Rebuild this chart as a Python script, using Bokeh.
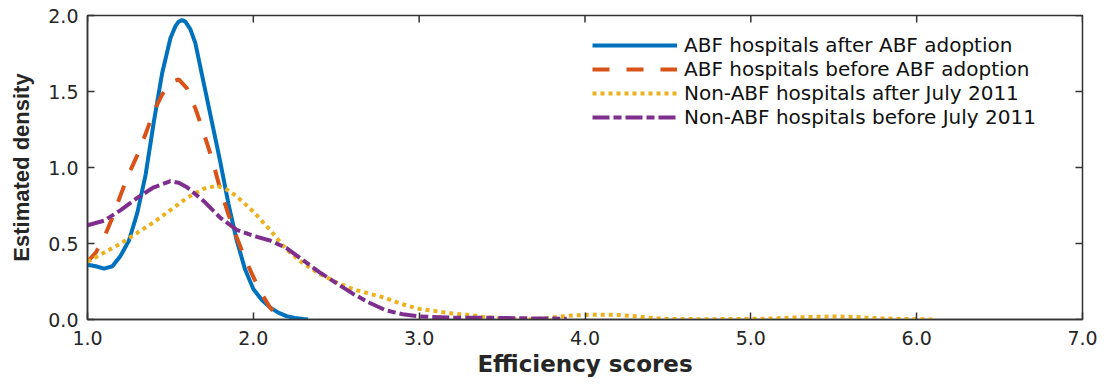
import math
from bokeh.plotting import figure
from bokeh.models import Range1d, FixedTicker, PrintfTickFormatter, Legend, LegendItem
from bokeh.embed import file_html
from bokeh.resources import INLINE

# ---- data ----
abf_after_x = [1.00, 1.05, 1.10, 1.15, 1.20, 1.25, 1.30, 1.35, 1.40, 1.45, 1.50, 1.53, 1.55, 1.57, 1.59,
               1.62, 1.65, 1.70, 1.75, 1.80, 1.85, 1.90, 1.95, 2.00, 2.05, 2.10, 2.15, 2.20, 2.25, 2.30, 2.33]
abf_after_y = [0.36, 0.35, 0.335, 0.35, 0.42, 0.52, 0.70, 0.95, 1.30, 1.62, 1.85, 1.93, 1.96, 1.97, 1.96,
               1.91, 1.82, 1.56, 1.30, 1.04, 0.76, 0.52, 0.33, 0.20, 0.13, 0.08, 0.045, 0.022, 0.01, 0.003, 0.0]

abf_before_x = [1.00, 1.05, 1.10, 1.15, 1.20, 1.25, 1.30, 1.35, 1.40, 1.45, 1.50, 1.55, 1.60, 1.65,
                1.70, 1.75, 1.80, 1.85, 1.90, 1.95, 2.00, 2.05, 2.10, 2.15]
abf_before_y = [0.38, 0.44, 0.54, 0.67, 0.82, 0.96, 1.08, 1.22, 1.37, 1.48, 1.56, 1.58, 1.52, 1.39,
                1.23, 1.06, 0.86, 0.69, 0.54, 0.40, 0.28, 0.17, 0.08, 0.02]

nonabf_after_x = [1.00, 1.10, 1.20, 1.30, 1.40, 1.50, 1.60, 1.70, 1.78, 1.85, 1.90, 2.00, 2.10, 2.20,
                  2.30, 2.40, 2.50, 2.60, 2.70, 2.80, 2.90, 3.00, 3.10, 3.20, 3.30, 3.40, 3.50, 3.60,
                  3.70, 3.80, 3.90, 4.00, 4.10, 4.20, 4.30, 4.40, 4.50, 4.70, 4.90, 5.10, 5.30, 5.50,
                  5.60, 5.70, 5.80, 5.90, 6.00, 6.10]
nonabf_after_y = [0.38, 0.44, 0.50, 0.57, 0.64, 0.72, 0.80, 0.86, 0.88, 0.85, 0.81, 0.71, 0.59, 0.46,
                  0.37, 0.30, 0.245, 0.20, 0.17, 0.14, 0.10, 0.07, 0.055, 0.04, 0.03, 0.015, 0.005, 0.0,
                  0.003, 0.012, 0.025, 0.03, 0.032, 0.03, 0.022, 0.01, 0.004, 0.002, 0.003, 0.006, 0.015, 0.02,
                  0.018, 0.012, 0.007, 0.004, 0.002, 0.0]

nonabf_before_x = [1.00, 1.10, 1.20, 1.30, 1.40, 1.50, 1.55, 1.60, 1.70, 1.80, 1.90, 2.00, 2.10, 2.20,
                   2.30, 2.40, 2.50, 2.60, 2.70, 2.80, 2.90, 3.00, 3.20, 3.40, 3.60, 3.80, 3.89]
nonabf_before_y = [0.62, 0.65, 0.72, 0.80, 0.87, 0.91, 0.90, 0.87, 0.78, 0.67, 0.59, 0.55, 0.52, 0.47,
                   0.39, 0.31, 0.24, 0.17, 0.11, 0.06, 0.035, 0.02, 0.012, 0.012, 0.008, 0.006, 0.005]

series_labels = ["ABF hospitals after ABF adoption", "ABF hospitals before ABF adoption",
                 "Non-ABF hospitals after July 2011", "Non-ABF hospitals before July 2011"]
x_ticks = [1.0, 2.0, 3.0, 4.0, 5.0, 6.0, 7.0]
y_ticks = [0.0, 0.5, 1.0, 1.5, 2.0]
x_min, x_max = 1.0, 7.0
y_min, y_max = 0.0, 2.0

AX = "#333333"
TXT = "#262626"

p = figure(width=1107, height=385, output_backend="svg", toolbar_location=None,
           x_range=Range1d(x_min, x_max), y_range=Range1d(y_min, y_max),
           min_border_left=87, min_border_right=25, min_border_top=15, min_border_bottom=66)
p.grid.visible = False
p.outline_line_color = AX
p.outline_line_width = 1.5

for ax in (p.xaxis[0], p.yaxis[0]):
    ax.major_tick_in = 7
    ax.major_tick_out = 0
    ax.minor_tick_in = 0
    ax.minor_tick_out = 0
    ax.axis_line_color = AX
    ax.axis_line_width = 1.5
    ax.major_tick_line_color = AX
    ax.major_tick_line_width = 1.5
    ax.major_label_text_font = "DejaVu Sans"
    ax.major_label_text_font_size = "19px"
    ax.major_label_text_color = TXT
    ax.formatter = PrintfTickFormatter(format="%.1f")

xb = p.xaxis[0]
yl = p.yaxis[0]
xb.ticker = FixedTicker(ticks=x_ticks)
yl.ticker = FixedTicker(ticks=y_ticks)
xb.major_label_standoff = 11
yl.major_label_standoff = 9
xb.axis_label = "Efficiency scores"
yl.axis_label = "Estimated density"
xb.axis_label_text_font = "DejaVu Sans"
xb.axis_label_text_font_size = "23px"
xb.axis_label_text_font_style = "bold"
xb.axis_label_text_color = TXT
xb.axis_label_standoff = 3
yl.axis_label_text_font = "Liberation Sans"
yl.axis_label_text_font_size = "22px"
yl.axis_label_text_font_style = "bold"
yl.axis_label_text_color = TXT
yl.axis_label_standoff = 11

# inward ticks on the top and right edges of the box
p.ray(x=x_ticks, y=[y_max] * len(x_ticks), length=7, length_units="screen",
      angle=-math.pi / 2, line_color=AX, line_width=1.5)
p.ray(x=[x_max] * len(y_ticks), y=y_ticks, length=7, length_units="screen",
      angle=math.pi, line_color=AX, line_width=1.5)

r1 = p.line(abf_after_x, abf_after_y, line_color="#0072BD", line_width=4)
r2 = p.line(abf_before_x, abf_before_y, line_color="#D95319", line_width=4, line_dash="17 17")
r3 = p.line(nonabf_after_x, nonabf_after_y, line_color="#EDB120", line_width=4, line_dash="4 4")
r4 = p.line(nonabf_before_x, nonabf_before_y, line_color="#7E2F8E", line_width=4, line_dash="17 4 8 4")

legend = Legend(items=[LegendItem(label=series_labels[0], renderers=[r1]),
                       LegendItem(label=series_labels[1], renderers=[r2]),
                       LegendItem(label=series_labels[2], renderers=[r3]),
                       LegendItem(label=series_labels[3], renderers=[r4])],
                location=(505, 190), border_line_color=None, background_fill_alpha=0,
                padding=0, margin=0, spacing=0, glyph_width=85, glyph_height=20,
                label_height=20, label_standoff=7,
                label_text_font="DejaVu Sans", label_text_font_size="20px",
                label_text_color="#111111")
p.add_layout(legend, "center")

open("out.html", "w").write(file_html(p, INLINE))
